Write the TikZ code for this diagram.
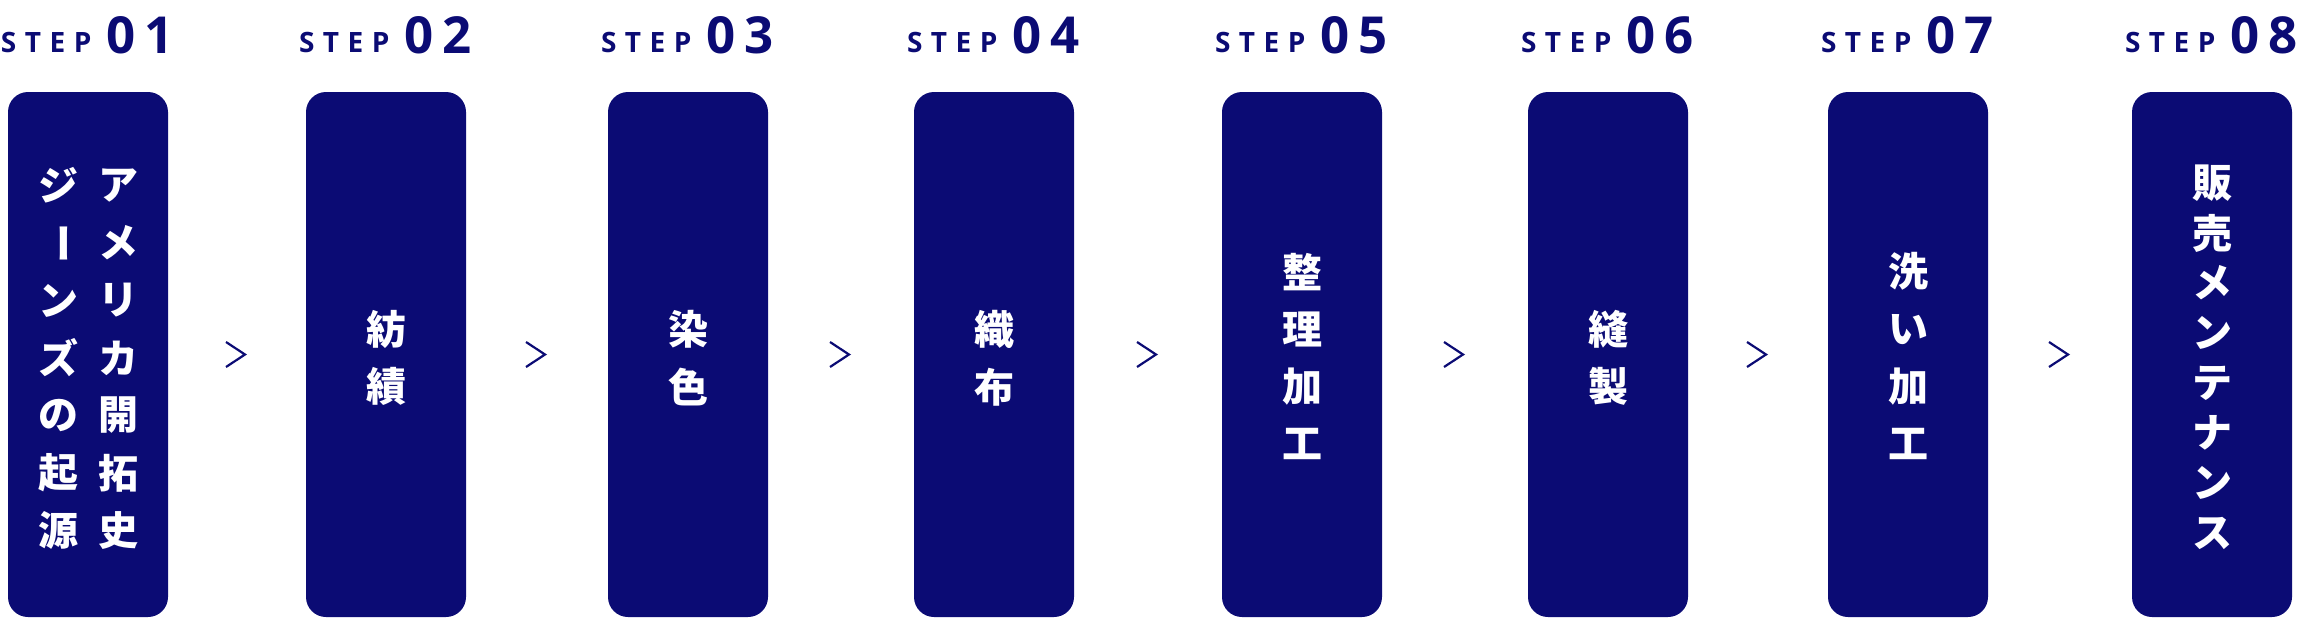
\documentclass[tikz,border=0pt]{standalone}
\usepackage{fontspec}
\usetikzlibrary{calc}
\setmainfont{Open Sans}
\newfontfamily\cjk{Noto Sans CJK JP}
\definecolor{navy}{RGB}{11,11,116}
\tikzset{
  box/.style={fill=navy, draw=none, rounded corners=20pt, minimum width=160pt, minimum height=525pt, inner sep=0pt},
  jp/.style={text=white, inner sep=0pt, font=\cjk\bfseries\fontsize{40pt}{40pt}\selectfont},
  steplbl/.style={text=navy, inner sep=0pt, font=\bfseries\fontsize{28pt}{28pt}\selectfont},
  stepnum/.style={text=navy, inner sep=0pt, font=\bfseries\fontsize{51pt}{51pt}\selectfont},
  chev/.style={draw=navy, line width=2.2pt, line join=miter, line cap=butt}
}
\newcommand\vcol[5]{%
  \foreach \ch [count=\k] in {#5}{%
    \node[jp] (#1-\k) at (#2, {358+#3*(\k-(#4+1)/2)}) {\ch};}}
\begin{document}
\begin{tikzpicture}[x=1pt,y=-1pt]
\useasboundingbox (0,0) rectangle (2300,618);
\foreach \i/\lx in {1/8,2/306,3/608,4/914,5/1222,6/1528,7/1828,8/2132}{
  \node[box] (b\i) at (\lx+80,354.5) {};
  \node[steplbl, anchor=base west] (s\i) at (\lx-7.2,53) {S\kern8.5pt T\kern8.5pt E\kern8.5pt P};
  \node[stepnum, anchor=base west] (n\i) at (\lx+98.5,54) {0\kern9pt\i};
}
% box texts
\vcol{t1r}{118.5}{57.5}{7}{ア,メ,リ,カ,開,拓,史}
\vcol{t1l}{58.5}{57.5}{7}{ジ,\rotatebox{-90}{ー},ン,ズ,の,起,源}
\vcol{t2}{386}{57.5}{2}{紡,績}
\vcol{t3}{688}{57.5}{2}{染,色}
\vcol{t4}{994}{57.5}{2}{織,布}
\vcol{t5}{1302}{57.5}{4}{整,理,加,工}
\vcol{t6}{1608}{57.5}{2}{縫,製}
\vcol{t7}{1908}{57.5}{4}{洗,い,加,工}
\vcol{t8}{2212}{50}{8}{販,売,メ,ン,テ,ナ,ン,ス}
% chevrons
\foreach \a/\b in {1/2,2/3,3/4,4/5,5/6,6/7,7/8}{
  \coordinate (c\a) at ($(b\a.east)!0.5!(b\b.west)+(-1.5,0)$);
  \draw[chev] ([shift={(-9.5,-12.5)}]c\a) -- ([shift={(9.5,0)}]c\a) -- ([shift={(-9.5,12.5)}]c\a);
}
\end{tikzpicture}
\end{document}
